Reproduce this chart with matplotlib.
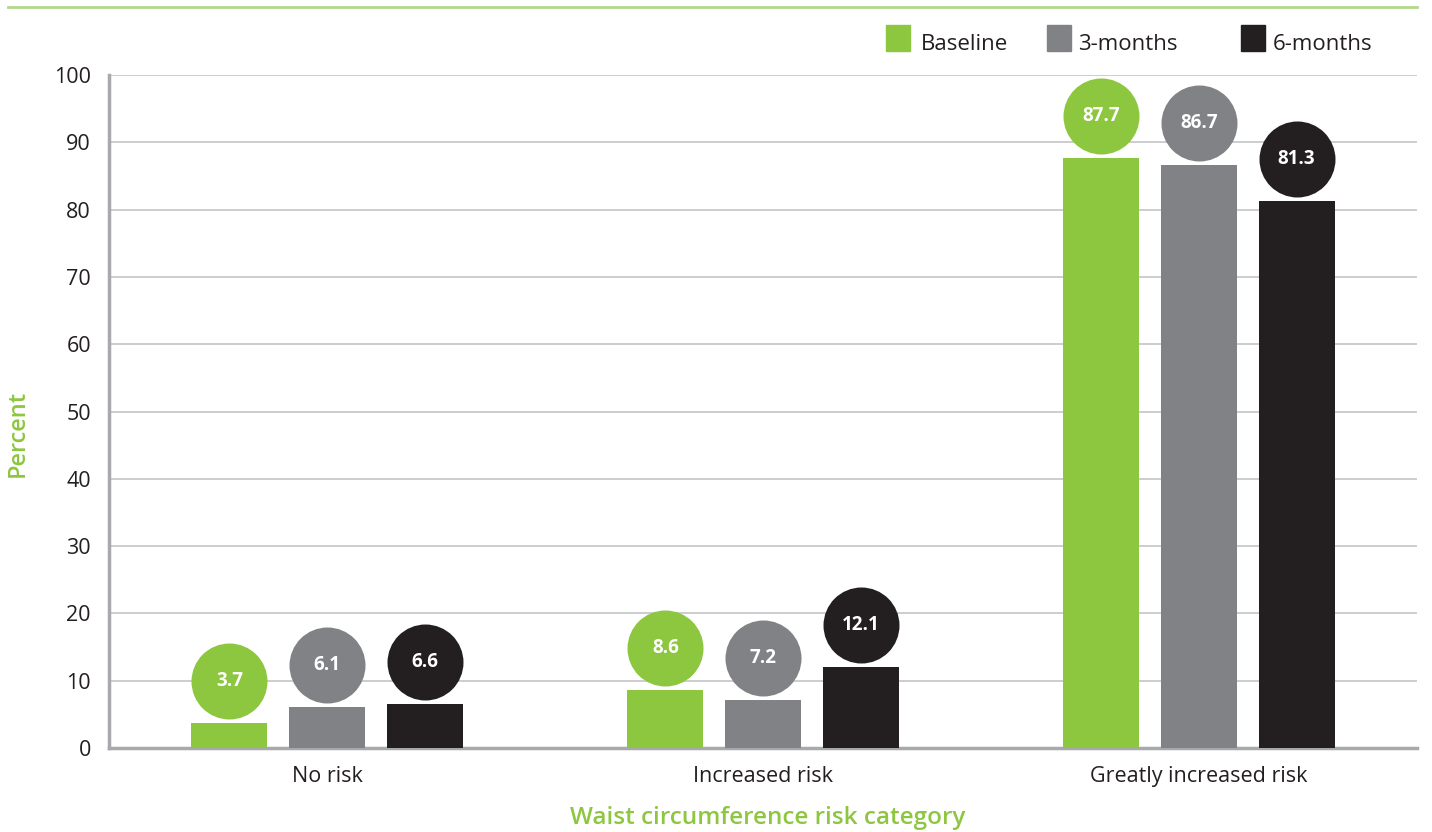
import matplotlib.pyplot as plt
import matplotlib.transforms as mtransforms
from matplotlib.patches import Rectangle
from matplotlib.lines import Line2D
import numpy as np

plt.rcParams['font.family'] = ['Open Sans', 'DejaVu Sans']

# waist circumference risk, percent of participants
categories = ['No risk', 'Increased risk', 'Greatly increased risk']
series = ['Baseline', '3-months', '6-months']
baseline = [3.7, 8.6, 87.7]
months3 = [6.1, 7.2, 86.7]
months6 = [6.6, 12.1, 81.3]

colors = ['#8dc63f', '#808285', '#231f20']
green = '#8dc63f'
textcol = '#231f20'

fig = plt.figure(figsize=(14.32, 8.32), dpi=100)
ax = fig.add_axes([109/1432, 1 - 748/832, (1417 - 109)/1432, (748 - 75)/832])

x = np.arange(len(categories))
width = 0.175
step = 0.224

# circles sit a fixed distance above each bar
lift = mtransforms.offset_copy(ax.transData, fig=fig, y=42, units='dots')

for i, vals in enumerate([baseline, months3, months6]):
    xs = x + (i - 1) * step
    ax.bar(xs, vals, width, color=colors[i], zorder=3)
    ax.scatter(xs, vals, s=(76 * 0.72) ** 2, color=colors[i], transform=lift,
               zorder=4, linewidths=0)
    for xi, v in zip(xs, vals):
        ax.text(xi, v, f'{v}', transform=lift, ha='center', va='center',
                color='white', fontsize=13.5, fontweight='bold', zorder=5)

ax.set_xlim(-0.5, 2.5)
ax.set_ylim(0, 100)
ax.set_yticks(range(0, 101, 10))
ax.set_xticks(x)
ax.set_xticklabels(categories)
ax.tick_params(length=0, labelsize=15.5, colors=textcol)
ax.tick_params(axis='y', pad=13)
ax.tick_params(axis='x', pad=13)
ax.grid(axis='y', color='#c8c9cb', linewidth=1.3, zorder=0)
ax.set_axisbelow(True)
for s in ['top', 'right']:
    ax.spines[s].set_visible(False)
for s in ['left', 'bottom']:
    ax.spines[s].set_color('#a7a9ac')
    ax.spines[s].set_linewidth(2.5)

fig.text(768/1432, 1 - 818/832, 'Waist circumference risk category', ha='center',
         va='center', color=green, fontsize=17.5, fontweight='semibold')
fig.text(18/1432, 1 - 433/832, 'Percent', rotation=90, ha='center', va='center',
         color=green, fontsize=17, fontweight='semibold')

# thin rule across the top
fig.add_artist(Line2D([8/1432, 1417/1432], [1 - 7/832, 1 - 7/832],
                      color='#b3d88a', linewidth=2))

# legend boxes laid out along the top
legend_x = [886, 1047, 1241]
legend_gap = [35, 31, 32]
for lx, gap, lab, c in zip(legend_x, legend_gap, series, colors):
    fig.add_artist(Rectangle((lx/1432, 1 - 51/832), 24/1432, 26/832,
                             color=c, transform=fig.transFigure))
    fig.text((lx + gap)/1432, 1 - 45/832, lab, ha='left', va='center',
             color=textcol, fontsize=16)

fig.savefig('out.png', dpi=100)
